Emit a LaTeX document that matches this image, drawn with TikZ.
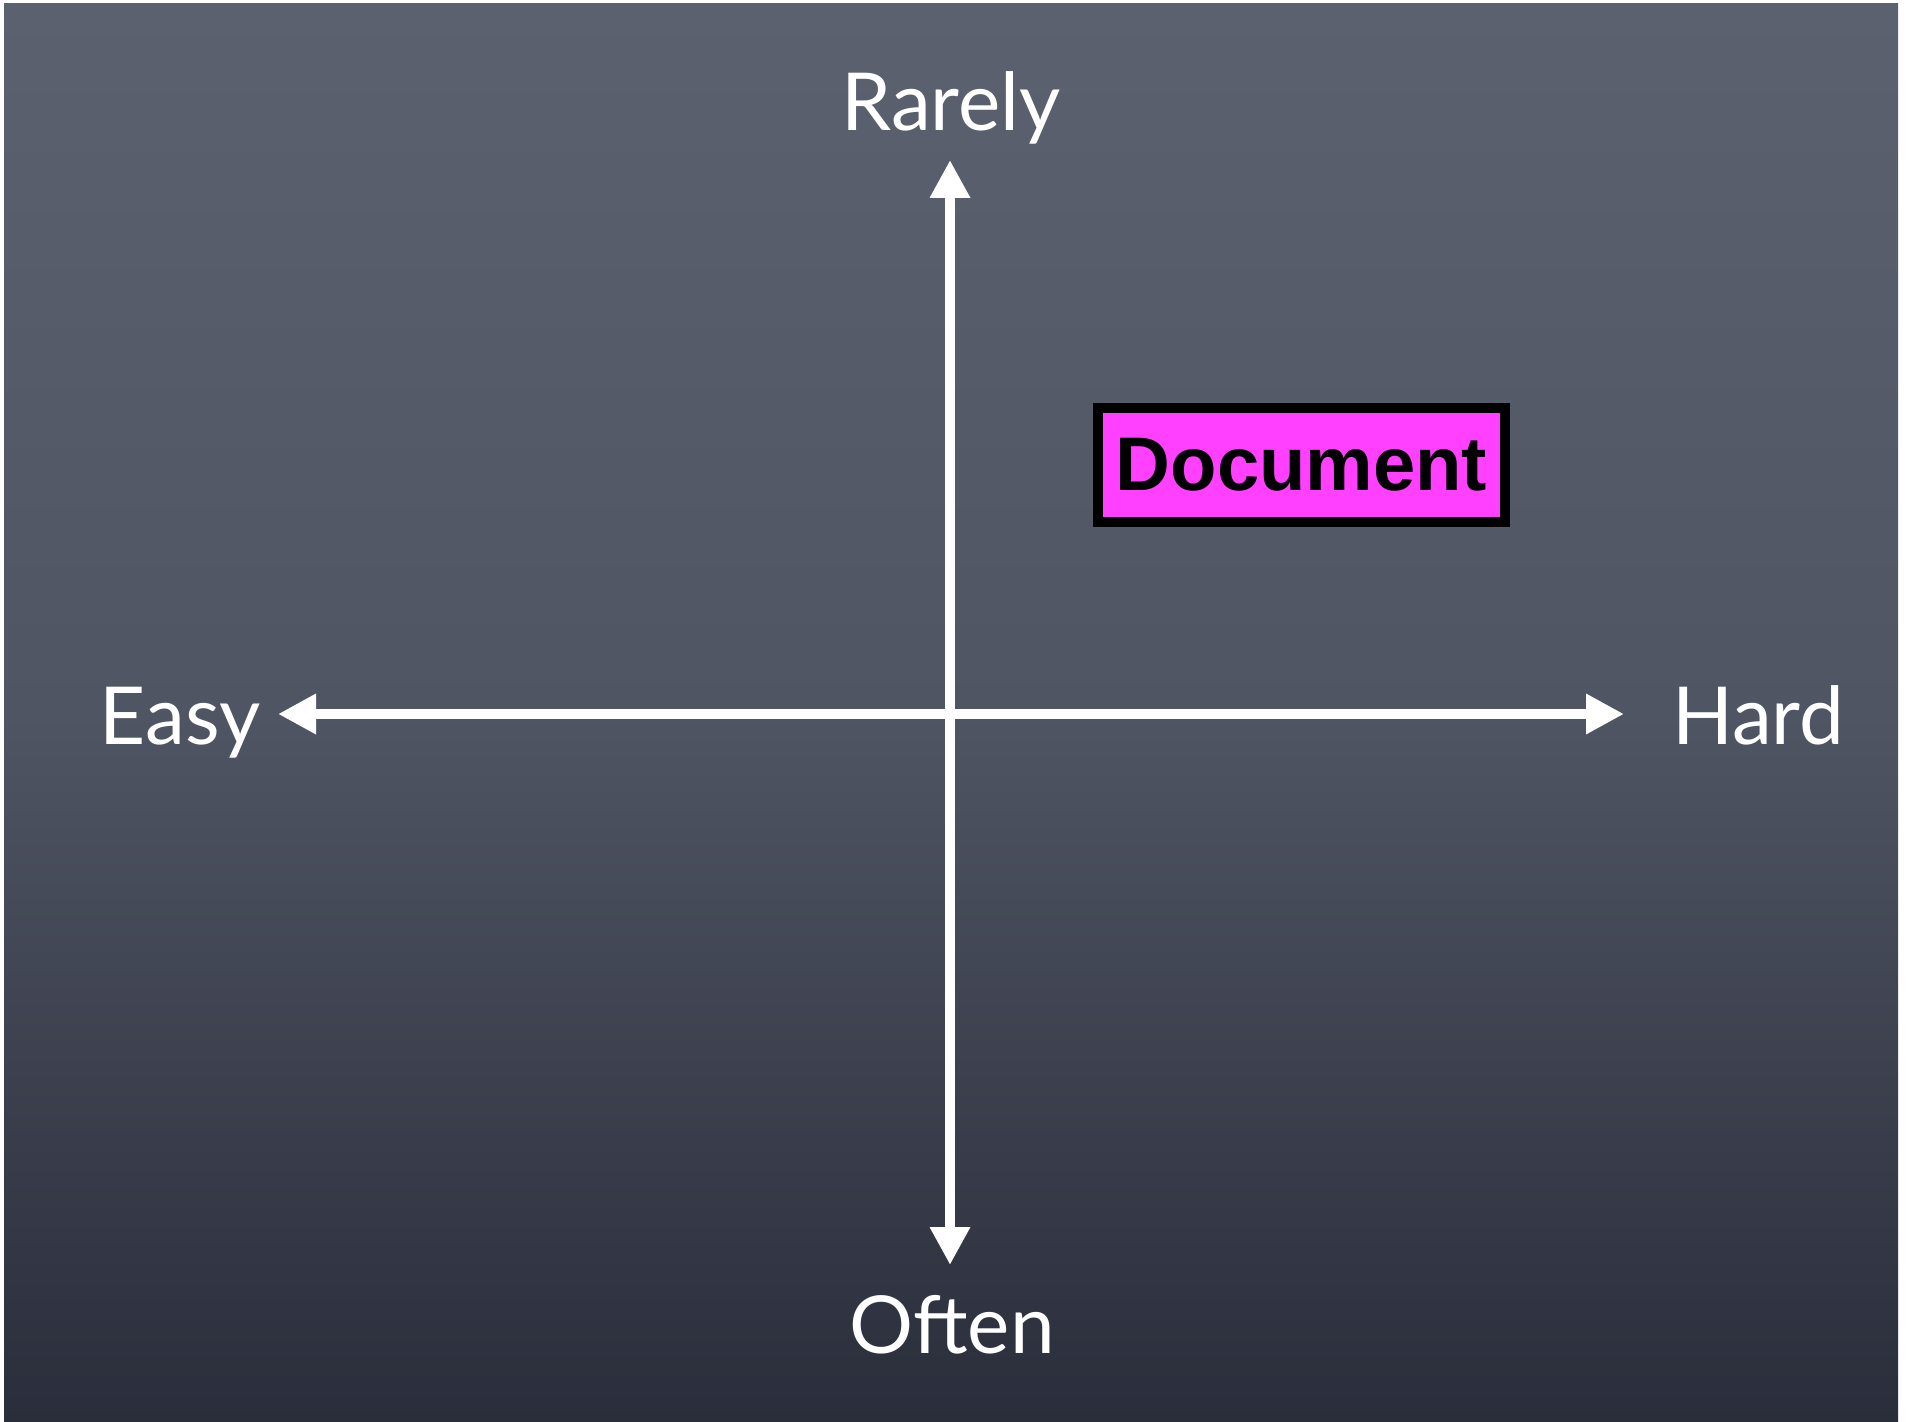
\documentclass[tikz,border=0pt]{standalone}
\usepackage{fontspec}
\setmainfont{Lato}
\newfontfamily\boxfont{Liberation Sans}
\usetikzlibrary{arrows.meta}
\definecolor{boardtop}{RGB}{92,97,112}
\definecolor{boardmid}{RGB}{80,85,99}
\definecolor{boardbot}{RGB}{42,45,58}
\definecolor{docfill}{RGB}{255,64,255}
\tikzset{
  axis/.style={draw=white, line width=5pt, {Triangle[length=19pt,width=19pt]}-{Triangle[length=19pt,width=19pt]}},
  axislabel/.style={text=white, font=\fontsize{40}{48}\selectfont, inner sep=0pt, anchor=base},
  docbox/.style={draw=black, fill=docfill, line width=5pt, minimum width=203.5pt, minimum height=57pt, inner sep=0pt, font=\boxfont\bfseries\fontsize{38}{46}\selectfont}
}
\begin{document}
\begin{tikzpicture}[x=0.5pt,y=-0.5pt]
\useasboundingbox[fill=white] (0,0) rectangle (1916,1422);
\shade[top color=boardtop, bottom color=boardbot, middle color=boardmid] (4,4) rectangle (1898,1422);
\coordinate (top) at (950,160);
\coordinate (bottom) at (950,1265);
\coordinate (left) at (278,714);
\coordinate (right) at (1624,714);
\draw[axis] (bottom) -- (top);
\draw[axis] (left) -- (right);
\node[axislabel] (rarely) at (951,131) {Rarely};
\node[axislabel] (often) at (952,1353) {Often};
\node[axislabel] (easy) at (180,744) {Easy};
\node[axislabel] (hard) at (1758,744) {Hard};
\node[docbox] (doc) at (1301.5,465) {Document};
\end{tikzpicture}
\end{document}
